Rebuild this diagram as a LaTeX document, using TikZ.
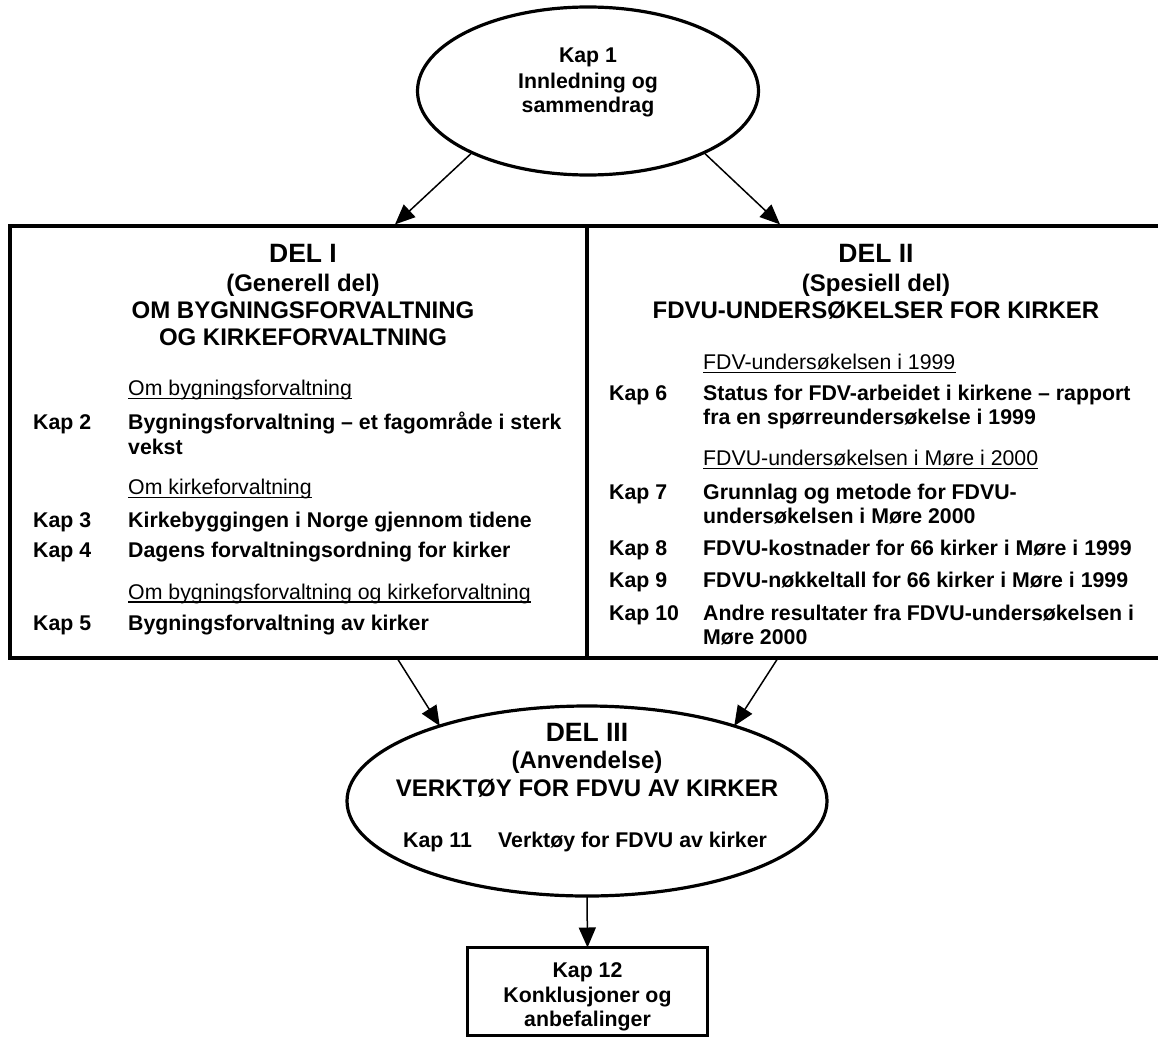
\documentclass[tikz,border=0pt]{standalone}
\usepackage{fontspec}
\setmainfont{Liberation Sans}
\usetikzlibrary{shapes.geometric,arrows.meta,calc}

\begin{document}
\begin{tikzpicture}[x=1pt,y=-1pt,
  body/.style={font=\fontsize{21.3}{24.5}\selectfont\bfseries, inner sep=0pt, anchor=base west},
  bodyc/.style={body, anchor=base},
  sub/.style={font=\fontsize{21.3}{24.5}\selectfont, inner sep=0pt, anchor=base west},
  head/.style={font=\fontsize{24}{27}\selectfont\bfseries, inner sep=0pt, anchor=base},
  delhead/.style={font=\fontsize{26.5}{30}\selectfont\bfseries, inner sep=0pt, anchor=base},
  frame/.style={draw, line width=3.2pt, inner sep=0pt, outer sep=0pt},
  uline/.style={line width=1.6pt},
  arr/.style={line width=1.5pt, -{Triangle[length=20pt,width=17pt]}},
]
\useasboundingbox (0,0) rectangle (1158,1041);

% ---- chapter 1 ----
\node[frame, ellipse, minimum width=341pt, minimum height=168pt] (kap1) at (588,91) {};
\node[bodyc] (kap1a) at (588,63) {Kap 1};
\node[bodyc] (kap1b) at (588,88) {Innledning og};
\node[bodyc] (kap1c) at (588,112) {sammendrag};

% ---- part I and part II ----
\node[frame, rectangle, minimum width=577pt, minimum height=432pt, anchor=north west] (del1) at (10,226) {};
\node[frame, rectangle, minimum width=575pt, minimum height=432pt, anchor=north west] (del2) at (587,226) {};

% part I
\node[delhead] (h1a) at (303,262.5) {DEL I};
\node[head] (h1b) at (303,291.5) {(Generell del)};
\node[head] (h1c) at (303,318.5) {OM BYGNINGSFORVALTNING};
\node[head] (h1d) at (303,345.5) {OG KIRKEFORVALTNING};

\node[sub] (s1) at (128,395.5) {Om bygningsforvaltning};
\draw[uline] ([yshift=-2.8pt]s1.base west) -- ([yshift=-2.8pt]s1.base east);
\node[body] (k2) at (33,429.5) {Kap 2};
\node[body] (t2a) at (128,429.5) {Bygningsforvaltning – et fagområde i sterk};
\node[body] (t2b) at (128,454) {vekst};

\node[sub] (s2) at (128,494.5) {Om kirkeforvaltning};
\draw[uline] ([yshift=-2.8pt]s2.base west) -- ([yshift=-2.8pt]s2.base east);
\node[body] (k3) at (33,527.5) {Kap 3};
\node[body] (t3) at (128,527.5) {Kirkebyggingen i Norge gjennom tidene};
\node[body] (k4) at (33,557.5) {Kap 4};
\node[body] (t4) at (128,557.5) {Dagens forvaltningsordning for kirker};

\node[sub] (s3) at (128,599) {Om bygningsforvaltning og kirkeforvaltning};
\draw[uline] ([yshift=-2.8pt]s3.base west) -- ([yshift=-2.8pt]s3.base east);
\node[body] (k5) at (33,630.5) {Kap 5};
\node[body] (t5) at (128,630.5) {Bygningsforvaltning av kirker};

% part II
\node[delhead] (h2a) at (876,262.5) {DEL II};
\node[head] (h2b) at (876,291.5) {(Spesiell del)};
\node[head] (h2c) at (876,318.5) {FDVU-UNDERSØKELSER FOR KIRKER};

\node[sub] (s4) at (703,369.5) {FDV-undersøkelsen i 1999};
\draw[uline] ([yshift=-2.8pt]s4.base west) -- ([yshift=-2.8pt]s4.base east);
\node[body] (k6) at (609,400.5) {Kap 6};
\node[body] (t6a) at (703,400.5) {Status for FDV-arbeidet i kirkene – rapport};
\node[body] (t6b) at (703,424.5) {fra en spørreundersøkelse i 1999};

\node[sub] (s5) at (703,465.5) {FDVU-undersøkelsen i Møre i 2000};
\draw[uline] ([yshift=-2.8pt]s5.base west) -- ([yshift=-2.8pt]s5.base east);
\node[body] (k7) at (609,499.5) {Kap 7};
\node[body] (t7a) at (703,499.5) {Grunnlag og metode for FDVU-};
\node[body] (t7b) at (703,523) {undersøkelsen i Møre 2000};
\node[body] (k8) at (609,555.5) {Kap 8};
\node[body] (t8) at (703,555.5) {FDVU-kostnader for 66 kirker i Møre i 1999};
\node[body] (k9) at (609,587.5) {Kap 9};
\node[body] (t9) at (703,587.5) {FDVU-nøkkeltall for 66 kirker i Møre i 1999};
\node[body] (k10) at (609,620.5) {Kap 10};
\node[body] (t10a) at (703,620.5) {Andre resultater fra FDVU-undersøkelsen i};
\node[body] (t10b) at (703,644.5) {Møre 2000};

% ---- part III ----
\node[frame, ellipse, minimum width=480pt, minimum height=190pt] (del3) at (587,801) {};
\node[delhead] (h3a) at (587,741.5) {DEL III};
\node[head] (h3b) at (587,768.6) {(Anvendelse)};
\node[head] (h3c) at (587,796.6) {VERKTØY FOR FDVU AV KIRKER};
\node[body] (k11) at (403,847.7) {Kap 11};
\node[body] (t11) at (498,847.7) {Verktøy for FDVU av kirker};

% ---- chapter 12 ----
\node[frame, rectangle, minimum width=240pt, minimum height=88pt, anchor=north] (kap12) at (587.5,947.5) {};
\node[bodyc] (kap12a) at (587.5,977.5) {Kap 12};
\node[bodyc] (kap12b) at (587.5,1002) {Konklusjoner og};
\node[bodyc] (kap12c) at (587.5,1026.5) {anbefalinger};

% ---- connectors ----
\draw[arr] (kap1.208) -- ([xshift=385pt,yshift=1.6pt]del1.north west);
\draw[arr] (kap1.332) -- ([xshift=193pt,yshift=1.6pt]del2.north west);
\draw[arr] ([xshift=387pt]del1.south west) -- (del3.153);
\draw[arr] ([xshift=191pt]del2.south west) -- (del3.27);
\draw[arr] (del3.south) -- (kap12.north);
\end{tikzpicture}
\end{document}
